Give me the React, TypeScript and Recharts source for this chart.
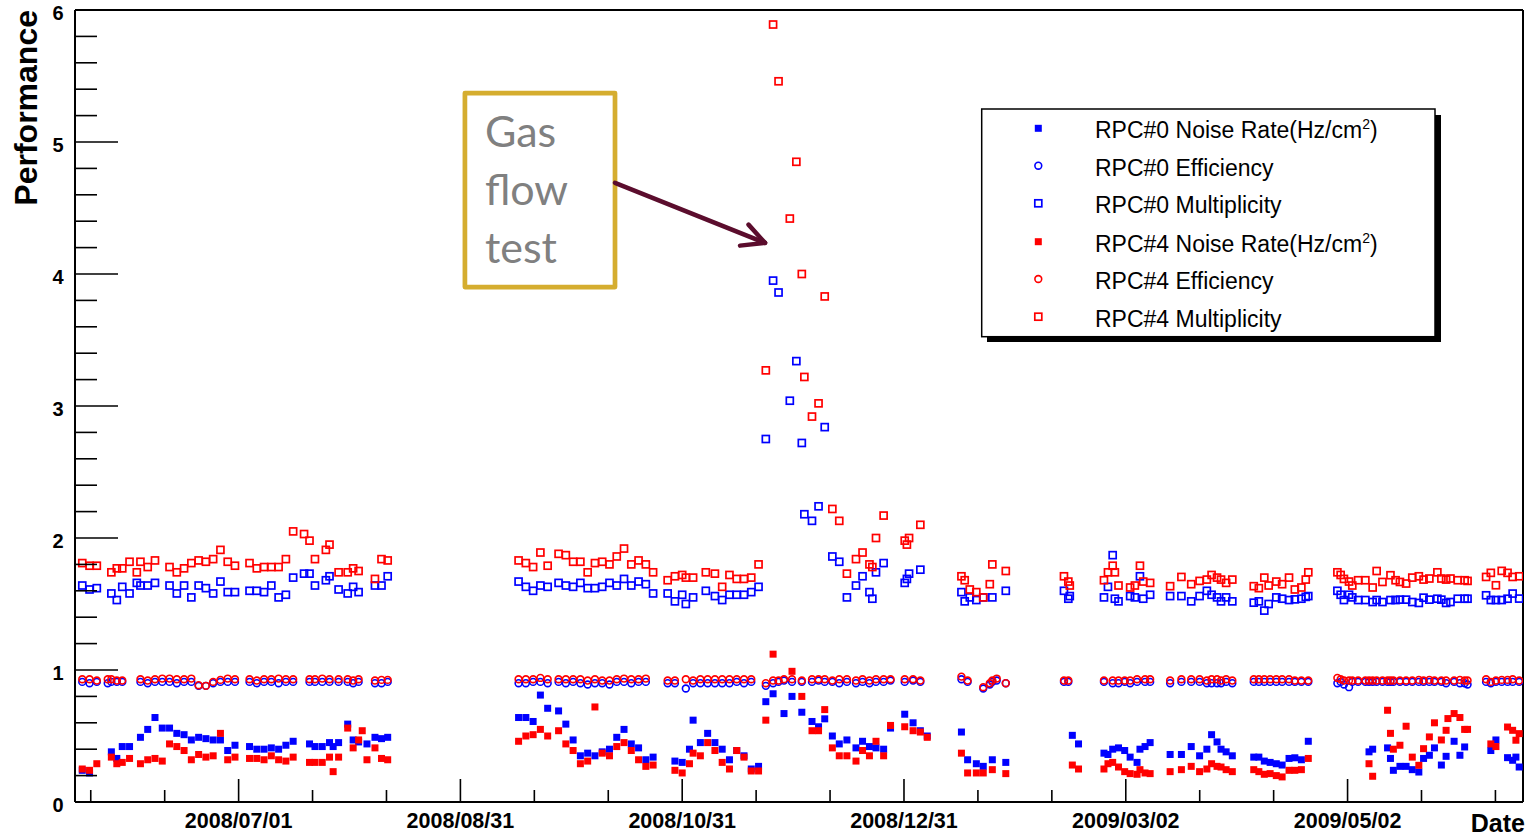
import React from 'react';
import { ScatterChart, Scatter, XAxis, YAxis, ReferenceLine, ReferenceArea } from 'recharts';

const N = null;

// Measurement days, counted from 2008/07/01 (day 0)
const days: number[] = [
  // 2008 May - Aug
  -43, -41, -39, -36, -35, -33.5, -32, -30, -28, -27, -25, -23, -21, -19, -17, -15, -13, -11, -9, -7, -5, -3, -1,
  3, 5, 7, 9, 11, 13, 15, 18, 19.5, 21, 23, 24, 25, 26, 27.5, 30, 31.5, 33, 34, 35.3, 37.5, 39.3, 41,
  // 2008 Sep - Nov
  77, 79, 81, 83, 85, 88, 90, 92, 94, 96, 98, 100, 102, 104, 106, 108, 110, 112, 114,
  118, 120, 122, 123, 124, 125, 127, 128.5, 129, 131, 133, 135, 137, 139, 141, 143,
  // gas flow test
  145, 147, 148.5, 150, 151.6, 152.2, 153.4, 154.9, 155.6, 157.7, 159.5, 161.2, 163.3, 165.2,
  167.3, 169.8, 171.6, 173.5, 174.3, 175.3, 177.4, 179.3, 183.2, 183.8, 184.4, 185.5, 187.5, 189.4,
  // 2009 Jan
  198.8, 199.7, 200.5, 201.1, 202.9, 204.8, 206.6, 207.3, 208.5, 211,
  // 2009 Feb - Mar
  227, 228.2, 228.6, 229.3, 231, 238, 239.1, 240.4, 241, 242, 243.7, 245.2, 246.5, 247.1,
  247.9, 248.8, 249.3, 250.7, 256.2, 259.3, 262, 264.3, 266.3, 267.6, 269.1, 270.2, 271.6, 273.3,
  // 2009 Apr
  279.2, 280.6, 282.1, 283.3, 283.7, 285.4, 287, 288.9, 290.5, 292.3, 293.5, 294.2,
  // 2009 May
  302.2, 303.1, 304, 305.4, 306.3, 307.9, 309.9, 310.9, 311.9, 313, 314.6, 316, 316.8, 317.6, 318.2, 319.4,
  321.1, 322.8, 324.6, 325.9, 327.5, 328.9, 329.7, 330.8, 332.1, 332.6, 333.3, 334.3, 335.3, 335.9, 337.2, 338,
  // 2009 Jun
  343.1, 344.4, 345.8, 347.4, 349, 350.4, 351.3, 352.2,
];

const rpc0Noise: (number | null)[] = [
  0.24, 0.22, N, N, 0.38, 0.33, 0.42, 0.42, N, 0.49, 0.55, 0.64, 0.56, 0.56, 0.52, 0.51, 0.47, 0.49, 0.48, 0.47, 0.47, 0.39, 0.43,
  0.42, 0.40, 0.40, 0.41, 0.40, 0.43, 0.46, N, 0.44, 0.42, 0.42, N, 0.45, 0.42, 0.45, 0.59, 0.47, 0.455, N, 0.44, 0.49, 0.48, 0.49,
  0.64, 0.64, 0.61, 0.81, 0.71, 0.69, 0.59, 0.47, 0.35, 0.37, 0.35, 0.38, 0.40, 0.49, 0.55, 0.44, 0.41, 0.32, 0.34,
  N, 0.31, 0.30, N, 0.40, 0.62, 0.45, N, 0.52, 0.45, 0.40, 0.32, 0.39, 0.35, 0.25, 0.27,
  0.76, 0.82, N, 0.67, N, 0.80, N, 0.68, N, 0.61, 0.57, 0.63, 0.50, 0.44,
  0.47, 0.41, 0.46, 0.42, N, 0.41, 0.40, 0.56, 0.665, N, N, 0.60, 0.54, 0.50,
  0.53, N, 0.32, N, 0.29, 0.27, N, 0.32, N, 0.30,
  N, N, N, 0.505, 0.44, 0.37, 0.36, 0.40, N, 0.41, 0.39, 0.34, N, 0.30,
  0.40, N, 0.42, 0.45, 0.36, 0.36, 0.42, 0.35, 0.40, 0.51, 0.455, 0.40, 0.38, 0.35,
  0.34, 0.34, 0.31, N, 0.30, 0.29, 0.28, 0.33, 0.335, 0.32, N, 0.46,
  N, N, N, N, N, N, N, 0.38, 0.40, N, N, 0.41, 0.33, 0.24, N, 0.27,
  0.27, 0.245, 0.227, 0.33, 0.354, 0.41, N, 0.28, 0.346, N, N, 0.46, N, 0.354, 0.417, N,
  N, 0.39, 0.47, N, 0.336, 0.316, 0.34, 0.265,
];

const rpc0Eff: (number | null)[] = [
  0.91, 0.90, 0.91, 0.90, 0.91, 0.91, 0.91, N, N, 0.91, 0.90, 0.91, 0.91, 0.91, 0.90, 0.91, 0.91, 0.88, 0.88, 0.90, 0.91, 0.91, 0.91,
  0.91, 0.90, 0.91, 0.91, 0.90, 0.91, 0.91, N, 0.91, 0.91, 0.91, N, 0.91, N, 0.91, 0.91, 0.90, 0.91, N, N, 0.90, 0.90, 0.91,
  0.90, 0.90, 0.91, 0.91, 0.90, 0.91, 0.90, 0.91, 0.90, 0.89, 0.90, 0.90, 0.89, 0.91, 0.91, 0.90, 0.91, 0.91, N,
  0.90, 0.90, N, 0.86, N, 0.90, 0.90, N, 0.90, 0.90, 0.90, 0.90, 0.91, 0.90, 0.91, N,
  0.88, 0.90, 0.91, 0.92, N, 0.91, N, 0.91, N, 0.91, 0.92, 0.91, 0.91, 0.90,
  0.91, 0.90, 0.91, 0.90, N, 0.91, 0.91, 0.92, 0.91, N, N, 0.92, 0.91, N,
  0.93, N, 0.91, N, N, 0.86, 0.89, 0.91, 0.92, 0.90,
  0.91, 0.91, N, N, N, 0.91, N, 0.90, N, 0.90, 0.91, 0.90, N, 0.91,
  N, N, 0.91, 0.91, 0.90, 0.91, 0.91, 0.91, 0.90, 0.90, 0.90, 0.90, 0.91, 0.90,
  0.91, 0.91, 0.91, N, 0.91, 0.91, 0.91, 0.91, 0.91, 0.91, N, 0.91,
  0.90, 0.91, 0.89, 0.87, 0.91, 0.91, 0.91, 0.91, 0.91, 0.91, 0.91, 0.91, 0.91, 0.91, N, 0.91,
  0.91, 0.91, 0.91, 0.91, 0.91, 0.91, N, 0.91, 0.90, N, N, 0.91, N, 0.90, 0.90, 0.89,
  0.91, 0.90, 0.91, 0.91, 0.91, 0.91, N, 0.91,
];

const rpc0Mult: (number | null)[] = [
  1.64, 1.61, 1.62, N, 1.58, 1.53, 1.63, 1.58, 1.66, 1.64, 1.64, 1.66, N, 1.64, 1.58, 1.64, 1.55, 1.64, 1.62, 1.58, 1.67, 1.59, 1.59,
  1.60, 1.60, 1.59, 1.64, 1.55, 1.57, 1.70, 1.73, 1.73, 1.64, N, 1.68, 1.71, N, 1.61, 1.58, 1.63, 1.59, N, N, 1.64, 1.64, 1.71,
  1.67, 1.63, 1.60, 1.64, 1.63, 1.66, 1.64, 1.63, 1.66, 1.62, 1.62, 1.63, 1.66, 1.64, 1.69, 1.64, 1.67, 1.65, 1.58,
  1.58, 1.52, 1.57, 1.50, N, 1.55, N, 1.60, N, 1.56, 1.53, 1.57, 1.57, 1.57, 1.59, 1.63,
  2.75, 3.95, 3.86, N, 3.04, N, 3.34, 2.72, 2.18, 2.13, 2.24, 2.84, 1.86, 1.82,
  1.55, 1.64, 1.71, 1.59, 1.54, 1.74, 1.81, N, 1.66, 1.69, 1.73, N, 1.76, N,
  1.59, 1.52, N, 1.55, 1.53, 1.55, N, 1.55, N, 1.60,
  1.60, 1.54, 1.56, N, N, 1.55, 1.63, 1.87, 1.54, 1.52, N, 1.56, 1.55, N,
  1.71, 1.54, N, 1.57, 1.56, 1.56, 1.52, 1.56, 1.60, 1.57, 1.55, 1.52, 1.55, 1.52,
  1.51, 1.52, 1.45, 1.50, N, 1.55, 1.54, 1.53, 1.535, 1.54, 1.554, 1.56,
  1.60, 1.57, 1.53, 1.57, 1.55, 1.53, 1.53, N, 1.515, 1.53, 1.515, N, 1.53, N, 1.53, 1.533,
  1.533, 1.515, 1.508, 1.548, 1.533, N, 1.54, 1.533, 1.508, N, 1.515, N, 1.54, N, 1.54, 1.54,
  1.566, 1.53, 1.53, 1.53, 1.54, 1.579, N, 1.541,
];

const rpc4Noise: (number | null)[] = [
  0.25, 0.24, 0.29, N, 0.34, 0.29, 0.30, 0.33, N, 0.29, 0.32, 0.33, 0.31, 0.44, 0.42, 0.39, 0.32, 0.36, 0.34, 0.35, 0.52, 0.32, 0.34,
  0.33, 0.33, 0.32, 0.35, 0.32, 0.31, 0.34, N, 0.30, 0.30, 0.30, N, 0.34, 0.23, 0.34, 0.56, 0.41, 0.47, 0.54, 0.32, 0.41, 0.33, 0.32,
  0.46, 0.50, 0.51, 0.55, 0.50, 0.54, 0.44, 0.39, 0.29, 0.31, 0.72, 0.37, 0.35, 0.42, 0.45, 0.39, 0.32, 0.27, 0.28,
  N, 0.24, 0.22, N, 0.29, 0.37, 0.35, N, 0.45, 0.39, 0.30, 0.25, 0.39, 0.34, 0.235, 0.235,
  0.62, 1.12, N, N, N, 0.99, N, 0.80, N, 0.54, 0.54, 0.70, 0.41, 0.35,
  0.35, 0.31, 0.39, 0.35, N, 0.46, 0.35, 0.58, 0.57, N, N, 0.54, 0.53, 0.49,
  0.37, N, 0.22, N, 0.22, 0.22, N, 0.245, N, 0.215,
  N, N, N, 0.28, 0.25, 0.25, 0.29, 0.30, N, 0.265, 0.23, 0.215, N, 0.21,
  0.245, N, 0.22, 0.215, 0.23, 0.245, 0.27, 0.23, 0.25, 0.29, 0.27, 0.265, 0.245, 0.23,
  0.245, 0.23, 0.21, N, 0.215, 0.20, 0.19, 0.24, 0.24, 0.245, N, 0.33,
  N, N, N, N, N, N, N, 0.29, 0.195, N, N, 0.695, 0.52, 0.40, N, 0.43,
  0.574, 0.34, 0.278, 0.404, 0.493, 0.60, N, 0.47, 0.543, 0.632, N, 0.67, N, 0.64, 0.55, 0.55,
  N, 0.44, 0.42, N, 0.568, 0.543, 0.468, 0.518,
];

const rpc4Eff: (number | null)[] = [
  0.93, 0.93, 0.92, 0.93, 0.93, 0.92, 0.92, N, N, 0.93, 0.92, 0.93, 0.935, 0.935, 0.93, 0.93, 0.935, 0.885, 0.88, 0.91, 0.925, 0.935, 0.93,
  0.93, 0.92, 0.93, 0.93, 0.935, 0.93, 0.93, N, 0.93, 0.93, 0.935, N, 0.93, N, 0.93, 0.93, 0.92, 0.93, N, N, 0.92, 0.925, 0.925,
  0.93, 0.93, 0.93, 0.94, 0.93, 0.93, 0.93, 0.93, 0.93, 0.92, 0.93, 0.92, 0.92, 0.93, 0.935, 0.93, 0.93, 0.935, N,
  0.92, 0.92, N, 0.93, N, 0.92, 0.93, N, 0.93, 0.93, 0.93, 0.93, 0.93, 0.93, 0.93, N,
  0.90, 0.92, 0.92, 0.93, N, 0.93, N, 0.92, N, 0.93, 0.93, 0.93, 0.92, 0.93,
  0.93, 0.92, 0.93, 0.92, N, 0.93, 0.93, 0.93, 0.93, N, N, 0.93, 0.92, N,
  0.95, N, 0.92, N, N, 0.87, 0.90, 0.92, 0.935, 0.90,
  0.92, 0.92, N, N, N, 0.92, N, 0.92, N, 0.92, 0.92, 0.92, N, 0.93,
  N, N, 0.93, 0.93, 0.92, 0.93, 0.93, 0.93, 0.92, 0.93, 0.93, 0.92, 0.93, 0.92,
  0.93, 0.93, 0.93, N, 0.93, 0.93, 0.93, 0.93, 0.92, 0.92, N, 0.92,
  0.94, 0.93, 0.92, 0.92, 0.92, 0.92, 0.92, 0.92, 0.92, 0.92, 0.92, 0.92, 0.92, 0.92, N, 0.92,
  0.92, 0.92, 0.925, 0.92, 0.925, 0.92, N, 0.92, 0.92, N, N, 0.92, N, 0.925, 0.92, 0.92,
  0.93, 0.91, 0.92, 0.925, 0.925, 0.93, N, 0.92,
];

const rpc4Mult: (number | null)[] = [
  1.81, 1.79, 1.79, N, 1.74, 1.77, 1.77, 1.82, 1.74, 1.82, 1.78, 1.83, N, 1.78, 1.74, 1.77, 1.81, 1.83, 1.82, 1.84, 1.91, 1.82, 1.79,
  1.81, 1.77, 1.78, 1.78, 1.78, 1.84, 2.05, 2.03, 1.98, 1.84, N, 1.91, 1.95, N, 1.74, 1.74, 1.77, 1.75, N, N, 1.69, 1.84, 1.83,
  1.83, 1.81, 1.78, 1.89, 1.79, 1.88, 1.87, 1.82, 1.82, 1.74, 1.81, 1.82, 1.80, 1.86, 1.92, 1.80, 1.83, 1.80, 1.74,
  1.68, 1.71, 1.72, 1.70, N, 1.70, N, 1.74, N, 1.73, 1.63, 1.72, 1.69, 1.69, 1.70, 1.80,
  3.27, 5.89, 5.46, N, 4.42, N, 4.85, 4.00, 3.22, 2.92, 3.02, 3.83, 2.22, 2.13,
  1.73, 1.84, 1.89, 1.80, 1.78, 2.00, 2.17, N, 1.98, 1.95, 2.00, N, 2.10, N,
  1.71, 1.68, N, 1.61, 1.59, 1.55, 1.65, 1.80, N, 1.75,
  1.71, 1.67, 1.64, N, N, 1.68, 1.74, 1.79, 1.74, 1.64, N, 1.625, 1.64, N,
  1.79, 1.67, N, 1.66, 1.635, 1.705, 1.65, 1.675, 1.685, 1.72, 1.70, 1.685, 1.66, 1.685,
  1.635, 1.62, 1.70, 1.64, N, 1.67, 1.65, 1.70, 1.61, 1.625, 1.685, 1.74,
  1.74, 1.72, 1.69, 1.67, 1.64, 1.68, 1.68, N, 1.625, 1.75, 1.667, N, 1.718, N, 1.68, 1.667,
  1.655, 1.70, 1.71, 1.685, 1.693, N, 1.74, 1.693, 1.685, N, 1.693, N, 1.68, N, 1.68, 1.675,
  1.705, 1.736, 1.642, 1.751, 1.736, 1.705, N, 1.71,
];

const tickDays = [0, 61, 122, 183, 244, 305];
const tickLabels = ['2008/07/01', '2008/08/31', '2008/10/31', '2008/12/31', '2009/03/02', '2009/05/02'];
const yTickValues = [0, 1, 2, 3, 4, 5, 6];

const X_MIN = -45.0;
const X_MAX = 353.25;
const Y_MAX = 6;

const BLUE = '#0000ff';
const RED = '#ff0000';
const FONT = '"Liberation Sans", Arial, Helvetica, sans-serif';

type Marker = 'filledSquare' | 'openCircle' | 'openSquare';

const seriesDefs: { label: string; unit: boolean; values: (number | null)[]; color: string; marker: Marker }[] = [
  { label: 'RPC#0 Noise Rate(Hz/cm', unit: true, values: rpc0Noise, color: BLUE, marker: 'filledSquare' },
  { label: 'RPC#0 Efficiency', unit: false, values: rpc0Eff, color: BLUE, marker: 'openCircle' },
  { label: 'RPC#0 Multiplicity', unit: false, values: rpc0Mult, color: BLUE, marker: 'openSquare' },
  { label: 'RPC#4 Noise Rate(Hz/cm', unit: true, values: rpc4Noise, color: RED, marker: 'filledSquare' },
  { label: 'RPC#4 Efficiency', unit: false, values: rpc4Eff, color: RED, marker: 'openCircle' },
  { label: 'RPC#4 Multiplicity', unit: false, values: rpc4Mult, color: RED, marker: 'openSquare' },
];

const toPoints = (vals: (number | null)[]) =>
  days.flatMap((d, i) => (vals[i] == null ? [] : [{ x: d, y: vals[i] as number }]));

const drawMarker = (marker: Marker, color: string, cx: number, cy: number) => {
  if (marker === 'filledSquare') return <rect x={cx - 3.5} y={cy - 3.5} width={7} height={7} fill={color} />;
  if (marker === 'openCircle')
    return <circle cx={cx} cy={cy} r={3.4} fill="none" stroke={color} strokeWidth={1.6} />;
  return <rect x={cx - 3.5} y={cy - 3.5} width={7} height={7} fill="none" stroke={color} strokeWidth={1.7} />;
};

// minor ticks: thirds of the 61-day label spacing
const xTicks: number[] = [];
for (let k = -2; k <= 17; k++) xTicks.push((k * 61) / 3);
const yTicks: number[] = [];
for (let i = 0; i <= 30; i++) yTicks.push(i / 5);

const XTick = (props: any) => {
  const { x, y, payload } = props;
  const idx = tickDays.findIndex((d) => Math.abs(d - payload.value) < 1e-6);
  const major = idx >= 0;
  return (
    <g>
      <line x1={x} x2={x} y1={y} y2={y - (major ? 23 : 12)} stroke="#000" strokeWidth={1.6} />
      {major && (
        <text x={x} y={y + 25.5} textAnchor="middle" fontFamily={FONT} fontWeight="bold" fontSize={21.5} fill="#000">
          {tickLabels[idx]}
        </text>
      )}
    </g>
  );
};

const YTick = (props: any) => {
  const { x, y, payload } = props;
  const v = payload.value;
  const major = yTickValues.some((t) => Math.abs(t - v) < 1e-6);
  return (
    <g>
      <line x1={x} x2={x + (major ? 43 : 22)} y1={y} y2={y} stroke="#000" strokeWidth={1.6} />
      {major && (
        <text x={x - 11.5} y={y + 10} textAnchor="end" fontFamily={FONT} fontWeight="bold" fontSize={20} fill="#000">
          {Math.round(v)}
        </text>
      )}
    </g>
  );
};

// annotation geometry, in data coordinates (days, performance)
const noteBox = { x1: 62.24, x2: 103.52, y1: 3.901, y2: 5.371 };
const noteLines = ['Gas', 'flow', 'test'];
const arrowStart = { x: 103.52, y: 4.691 };
const arrowTip = { x: 144.77, y: 4.236 };
const arrowWingA = { x: 137.9, y: 4.215 };
const arrowWingB = { x: 140.24, y: 4.374 };
const ARROW = '#5b0d2d';

const NoteLabel = (props: any) => {
  const vb = props.viewBox || {};
  return (
    <g>
      {noteLines.map((t, i) => (
        <text key={t} x={vb.x + 20} y={vb.y + 53.7 + i * 58} fontFamily="Lato, 'Open Sans', sans-serif" fontSize={43} fill="#808080">
          {t}
        </text>
      ))}
    </g>
  );
};

const legendRowsY = [128.3, 165.7, 203.3, 241.7, 279, 316.7];

const App = () => {
  return (
    <div style={{ position: 'absolute', left: 0, top: 0, width: 1532, height: 839, background: '#fff' }}>
      <ScatterChart width={1532} height={839} margin={{ top: 10, right: 9, bottom: 0, left: 0 }}>
        <XAxis
          type="number"
          dataKey="x"
          domain={[X_MIN, X_MAX]}
          allowDataOverflow
          ticks={xTicks}
          interval={0}
          tick={(p: any) => <XTick {...p} />}
          tickLine={false}
          tickSize={0}
          tickMargin={0}
          axisLine={{ stroke: '#000', strokeWidth: 2 }}
          height={37}
        />
        <YAxis
          type="number"
          dataKey="y"
          domain={[0, Y_MAX]}
          allowDataOverflow
          ticks={yTicks}
          interval={0}
          tick={(p: any) => <YTick {...p} />}
          tickLine={false}
          tickSize={0}
          tickMargin={0}
          axisLine={{ stroke: '#000', strokeWidth: 2 }}
          width={75}
        />
        <ReferenceLine y={Y_MAX} stroke="#000" strokeWidth={2} ifOverflow="visible" />
        <ReferenceLine x={X_MAX} stroke="#000" strokeWidth={2} ifOverflow="visible" />
        <ReferenceArea
          x1={noteBox.x1}
          x2={noteBox.x2}
          y1={noteBox.y1}
          y2={noteBox.y2}
          fill="none"
          fillOpacity={0}
          stroke="#d5ad2f"
          strokeWidth={4.7}
          strokeLinejoin="round"
          ifOverflow="visible"
          label={(p: any) => <NoteLabel {...p} />}
        />
        <ReferenceLine segment={[arrowStart, arrowTip]} stroke={ARROW} strokeWidth={4.5} strokeLinecap="round" ifOverflow="visible" />
        <ReferenceLine segment={[arrowWingA, arrowTip]} stroke={ARROW} strokeWidth={4.5} strokeLinecap="round" ifOverflow="visible" />
        <ReferenceLine segment={[arrowWingB, arrowTip]} stroke={ARROW} strokeWidth={4.5} strokeLinecap="round" ifOverflow="visible" />
        {seriesDefs.map((s) => (
          <Scatter
            key={s.label + s.color}
            name={s.label}
            data={toPoints(s.values)}
            isAnimationActive={false}
            shape={(p: any) => drawMarker(s.marker, s.color, p.cx, p.cy)}
          />
        ))}
      </ScatterChart>
      <svg
        width={1532}
        height={839}
        style={{ position: 'absolute', left: 0, top: 0, pointerEvents: 'none' }}
      >
        <text transform="rotate(-90)" x={-10} y={37} textAnchor="end" fontFamily={FONT} fontWeight="bold" fontSize={32} fill="#000">
          Performance
        </text>
        <text x={1525} y={832} textAnchor="end" fontFamily={FONT} fontWeight="bold" fontSize={25} fill="#000">
          Date
        </text>
        <rect x={987} y={115} width={454} height={227} fill="#000" />
        <rect x={981.7} y={109} width={453.3} height={227.7} fill="#fff" stroke="#000" strokeWidth={1.5} />
        {seriesDefs.map((s, i) => (
          <g key={'lg' + i}>
            {drawMarker(s.marker, s.color, 1038.3, legendRowsY[i])}
            <text x={1095} y={legendRowsY[i] + 10} fontFamily={FONT} fontSize={23} fill="#000">
              {s.label}
              {s.unit && (
                <>
                  <tspan dy={-9} fontSize={14}>2</tspan>
                  <tspan dy={9}>)</tspan>
                </>
              )}
            </text>
          </g>
        ))}
      </svg>
    </div>
  );
};

export default App;
